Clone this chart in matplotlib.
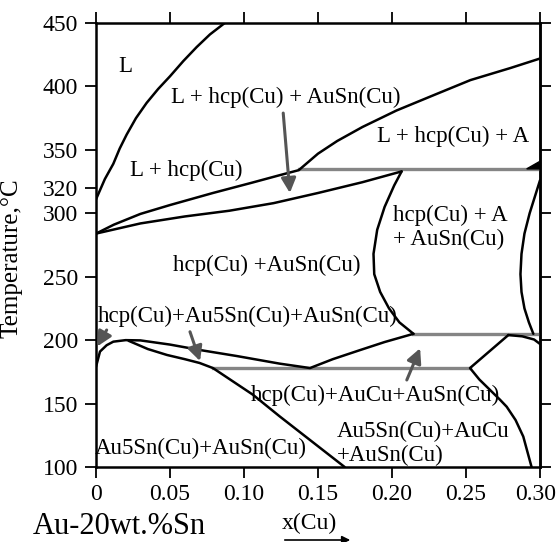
import matplotlib
matplotlib.use("Agg")
from matplotlib import pyplot as plt
from matplotlib.transforms import ScaledTranslation

plt.rcParams['font.family'] = ['Liberation Serif', 'DejaVu Serif']

# phase boundaries: x(Cu), temperature (C)
liquidus_x = [0, 0.006, 0.0117, 0.016, 0.0207, 0.027, 0.0342, 0.042, 0.05, 0.059,
              0.068, 0.077, 0.087]
liquidus_T = [311, 327, 339, 351, 362, 375, 387, 398, 408, 420, 431, 441, 450]

upper_x = [0, 0.012, 0.03, 0.05, 0.079, 0.105, 0.124, 0.137, 0.15, 0.163,
           0.18, 0.203, 0.23, 0.253, 0.28, 0.30]
upper_T = [284, 291, 299.5, 306.5, 316, 324, 330, 334, 347, 357,
           368, 381, 394, 405, 414.5, 422]

lower_x = [0, 0.03, 0.06, 0.09, 0.12, 0.15, 0.18, 0.2065]
lower_T = [284, 292, 297.5, 302, 308, 316, 324.5, 333]

bulge_left_x = [0.2065, 0.2015, 0.195, 0.19, 0.1875, 0.188, 0.192, 0.198, 0.205, 0.2145]
bulge_left_T = [333, 322, 305, 287, 268, 252, 238, 225, 214, 205]

bulge_right_x = [0.30, 0.2965, 0.293, 0.2895, 0.2875, 0.2868, 0.2875, 0.2895, 0.2925, 0.2955]
bulge_right_T = [326, 313, 300, 284, 268, 252, 238, 225, 214, 205]

corner_x = [0.2786, 0.288, 0.296, 0.30]
corner_T = [204, 203, 200.5, 197]

v_x = [0.2786, 0.2527, 0.259, 0.266, 0.273, 0.2775, 0.2835, 0.2887, 0.2943]
v_T = [204, 178, 169, 161, 153, 147.5, 137, 124, 100]

small_top_x = [0, 0.0027, 0.0072, 0.0117, 0.02, 0.03, 0.05, 0.0703, 0.095, 0.124,
               0.1446, 0.16, 0.178, 0.195, 0.2145]
small_top_T = [179, 191, 196, 198.8, 200, 199.8, 196.5, 192.2, 187.5, 181.5,
               178, 185, 192, 198.5, 205]

small_low_x = [0.022, 0.035, 0.048, 0.06, 0.07, 0.079, 0.106, 0.124, 0.168]
small_low_T = [199.5, 193, 188.3, 185, 182, 178, 157, 140, 100]

wedge_x = [0.291, 0.30, 0.30]
wedge_T = [335, 341, 335]

# invariant (gray) lines: temperature, x start, x end
tie_T = [335, 205, 178]
tie_x0 = [0.137, 0.2145, 0.079]
tie_x1 = [0.30, 0.30, 0.2527]

# arrows: tail -> tip
arrow_tail = [(0.1265, 379), (0.0072, 208), (0.0635, 206.6), (0.21, 168.6)]
arrow_tip = [(0.131, 316), (0.0008, 195), (0.0703, 183.5), (0.219, 193.6)]

labels = [
    ("L", 0.0196, 415.6, 'center'),
    ("L + hcp(Cu) + AuSn(Cu)", 0.128, 391.5, 'center'),
    ("L + hcp(Cu) + A", 0.241, 360.4, 'center'),
    ("L + hcp(Cu)", 0.061, 334, 'center'),
    ("hcp(Cu) + A\n+ AuSn(Cu)", 0.201, 288.8, 'left'),
    ("hcp(Cu) +AuSn(Cu)", 0.1153, 259.2, 'center'),
    ("hcp(Cu)+Au5Sn(Cu)+AuSn(Cu)", 0.1024, 218.5, 'center'),
    ("hcp(Cu)+AuCu+AuSn(Cu)", 0.1885, 156.4, 'center'),
    ("Au5Sn(Cu)+AuCu\n+AuSn(Cu)", 0.1626, 118.4, 'left'),
    ("Au5Sn(Cu)+AuSn(Cu)", 0.071, 114.7, 'center'),
]

xticks = [0, 0.05, 0.10, 0.15, 0.20, 0.25, 0.30]
xticklabels = ['0', '0.05', '0.10', '0.15', '0.20', '0.25', '0.30']
yticks_left = [100, 150, 200, 250, 300, 320, 350, 400, 450]
yticks_right = [100, 150, 200, 250, 300, 350, 400, 450]

fig = plt.figure(figsize=(5.56, 5.42), dpi=100)
ax = fig.add_axes([96 / 556, 1 - 467 / 542, 444 / 556, 444 / 542])

lw = 1.8
for xs, ts in [(liquidus_x, liquidus_T), (upper_x, upper_T), (lower_x, lower_T),
               (bulge_left_x, bulge_left_T), (bulge_right_x, bulge_right_T),
               (corner_x, corner_T), (v_x, v_T), (small_top_x, small_top_T),
               (small_low_x, small_low_T)]:
    ax.plot(xs, ts, color='black', lw=lw, solid_capstyle='round',
            solid_joinstyle='round', zorder=3)

for t, x0, x1 in zip(tie_T, tie_x0, tie_x1):
    ax.plot([x0, x1], [t, t], color='#858585', lw=2.4, zorder=2)

ax.fill(wedge_x, wedge_T, color='black', zorder=3)

for tail, tip in zip(arrow_tail, arrow_tip):
    ax.annotate('', xy=tip, xytext=tail,
                arrowprops=dict(arrowstyle='-|>', color='#555555', lw=2.2,
                                mutation_scale=22, shrinkA=0, shrinkB=0),
                zorder=4)

for txt, x, t, ha in labels:
    ax.text(x, t, txt, ha=ha, va='center', fontsize=16.5, linespacing=1.15,
            zorder=5)

ax.set_xlim(0, 0.30)
ax.set_ylim(100, 450)
ax.set_xticks(xticks)
ax.set_xticklabels(xticklabels)
ax.set_yticks(yticks_left)
for s in ax.spines.values():
    s.set_linewidth(1.8)
ax.tick_params(direction='out', length=8, width=1.3, labelsize=17, pad=4,
               top=True, labeltop=False)
ax.tick_params(axis='y', pad=5)
# last x label sits against the right edge, as in the original
last = ax.get_xticklabels()[-1]
last.set_transform(last.get_transform() + ScaledTranslation(-4 / 100, 0, fig.dpi_scale_trans))

sec = ax.secondary_yaxis('right')
sec.set_yticks(yticks_right)
sec.set_yticklabels([])
sec.tick_params(direction='out', length=8, width=1.3)
sec.spines['right'].set_linewidth(1.8)

ax.set_ylabel('Temperature,°C', fontsize=18)
ax.yaxis.set_label_coords(-0.165, 0.47)

fig.text(33 / 556, 1 - 527 / 542, 'Au-20wt.%Sn', fontsize=22, ha='left', va='center')
fig.text(282 / 556, 1 - 523 / 542, 'x(Cu)', fontsize=17, ha='left', va='center')
fig.add_artist(matplotlib.patches.FancyArrowPatch(
    (282 / 556, 1 - 540 / 542), (353 / 556, 1 - 540 / 542),
    transform=fig.transFigure, arrowstyle='-|>', mutation_scale=12,
    color='black', lw=1.2))

fig.savefig('out.png', dpi=100)
